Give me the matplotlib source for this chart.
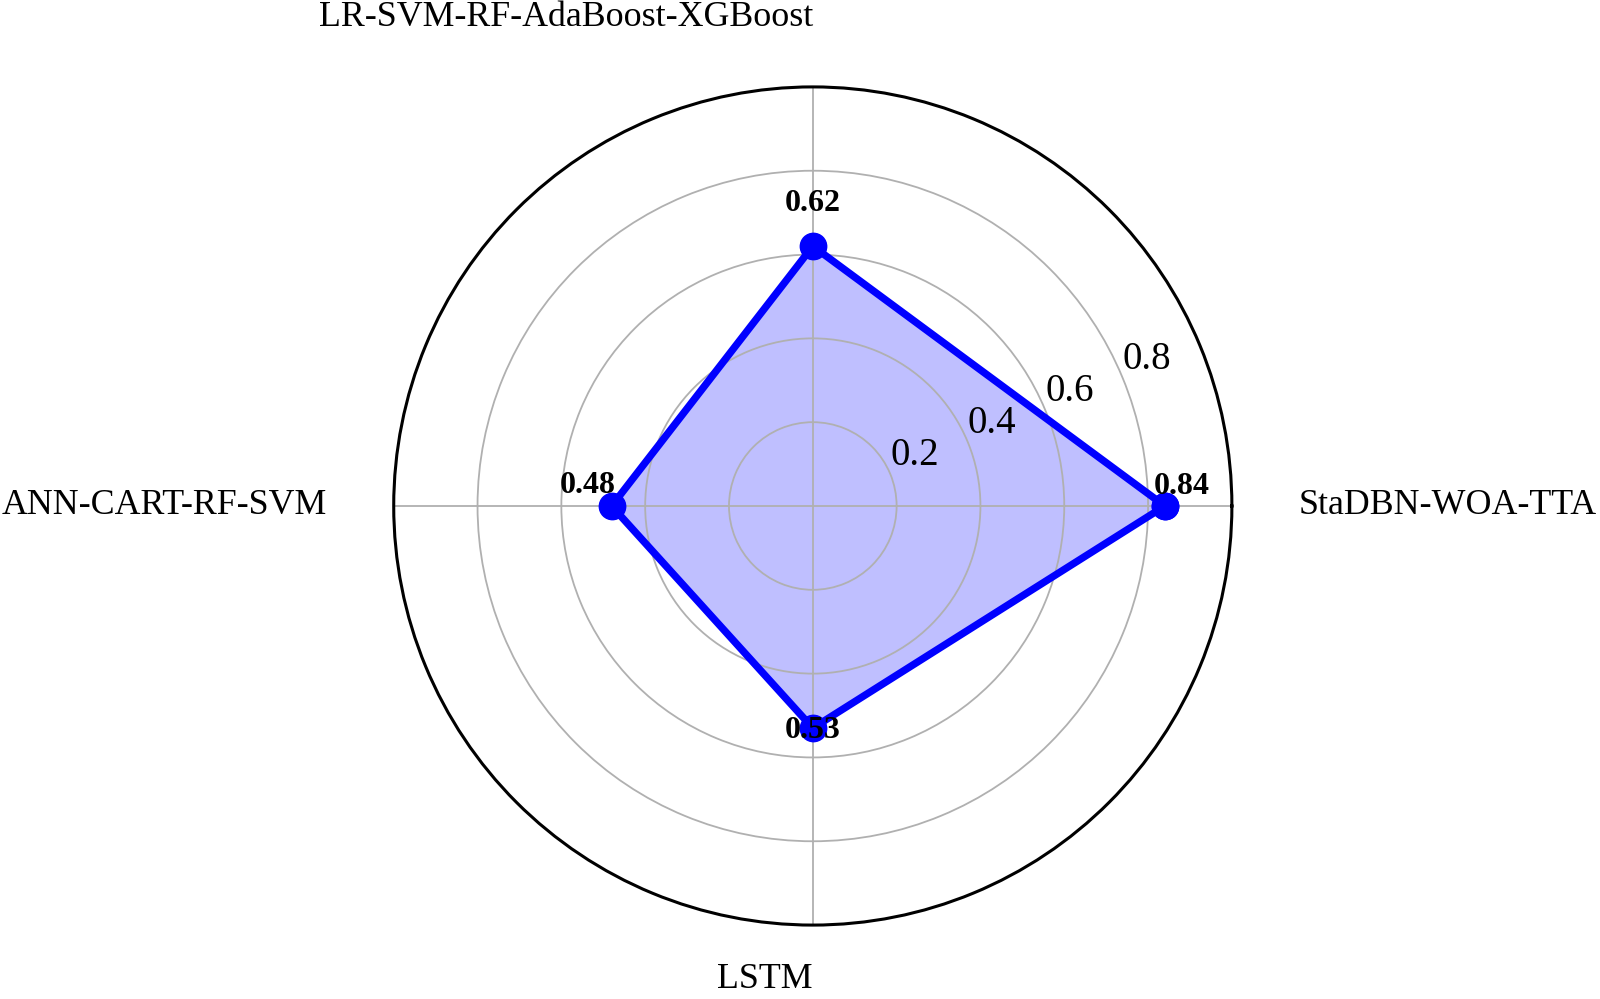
import numpy as np
import matplotlib.pyplot as plt

plt.rcParams['font.family'] = ['Liberation Serif', 'DejaVu Serif']

models = ['StaDBN-WOA-TTA', 'LR-SVM-RF-AdaBoost-XGBoost', 'ANN-CART-RF-SVM', 'LSTM']
scores = [0.84, 0.62, 0.48, 0.53]
rticks = [0.2, 0.4, 0.6, 0.8]

angles = np.linspace(0, 2 * np.pi, len(models), endpoint=False)
# close the polygon
ang_c = np.append(angles, angles[0])
val_c = np.append(scores, scores[0])

fig = plt.figure(figsize=(16, 9.99), dpi=100)
ax = fig.add_axes([0.246, 0.074, 0.524, 0.839], projection='polar')

ax.fill(ang_c, val_c, color=(0, 0, 1, 0.25), linewidth=0)
ax.plot(ang_c, val_c, color='#0000ff', linewidth=5.3, marker='o', markersize=19)

ax.set_ylim(0, 1.0)
ax.set_yticks(rticks)
ax.set_yticklabels([str(t) for t in rticks], fontsize=28)
ax.set_rlabel_position(22.5)
ax.set_xticks(angles)
ax.set_xticklabels([])
ax.grid(color='#b0b0b0', linewidth=1.3)
ax.spines['polar'].set_linewidth(2.2)

# category names outside the circle
h_al = ['left', 'right', 'right', 'right']
lab_r = [1.16, 1.165, 1.16, 1.13]
for a, name, ha, r in zip(angles, models, h_al, lab_r):
    ax.text(a, r, name, ha=ha, va='center', fontsize=25.8)

# value labels
offsets = [(12, 14), (0, 31), (-17, 15), (0, -2)]
for a, v, off in zip(angles, scores, offsets):
    ax.annotate(f'{v:.2f}', (a, v), xytext=off, textcoords='offset points',
                ha='center', va='center', fontsize=23, fontweight='bold')

fig.savefig('out.png', dpi=100)
